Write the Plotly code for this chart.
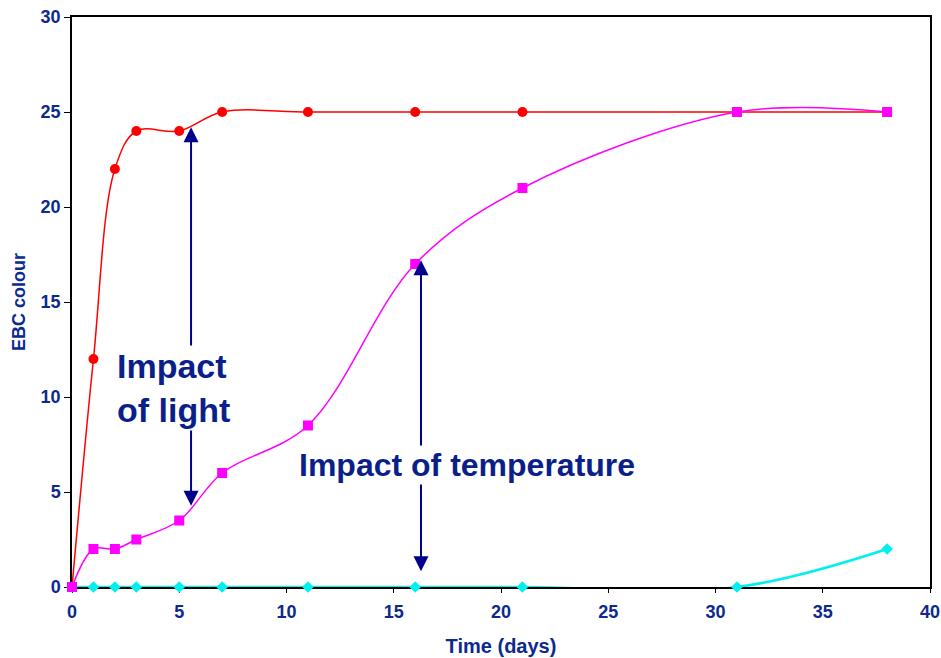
import plotly.graph_objs as go

# days of storage
days = [0, 1, 2, 3, 5, 7, 11, 16, 21, 31, 38]

# EBC colour per condition
light = [0, 12, 22, 24, 24, 25, 25, 25, 25, 25, 25]
warm = [0, 2, 2, 2.5, 3.5, 6, 8.5, 17, 21, 25, 25]
cold = [0, 0, 0, 0, 0, 0, 0, 0, 0, 0, 2]

navy = "#0b2a8c"
txt = "#0a1f8a"
arrow = "#00008b"
sans = "Liberation Sans, Arial, sans-serif"

fig = go.Figure()

fig.add_trace(go.Scatter(x=days, y=cold, mode="lines+markers", line_shape="spline",
                         line=dict(color="#00f0f0", width=2.5), cliponaxis=False,
                         marker=dict(symbol="diamond", size=9, color="#00f0f0")))
fig.add_trace(go.Scatter(x=days, y=light, mode="lines+markers", line_shape="spline",
                         line=dict(color="#ff0000", width=1.5), cliponaxis=False,
                         marker=dict(symbol="circle", size=10, color="#ff0000")))
fig.add_trace(go.Scatter(x=days, y=warm, mode="lines+markers", line_shape="spline",
                         line=dict(color="#ff00ff", width=1.5), cliponaxis=False,
                         marker=dict(symbol="square", size=10, color="#ff00ff")))

# double headed arrows
for xa, y0, y1 in [(5.55, 24.2, 4.2), (16.27, 17.2, 0.75)]:
    fig.add_annotation(x=xa, y=y0, ax=xa, ay=y1, xref="x", yref="y", axref="x", ayref="y",
                       text="", showarrow=True, arrowhead=2, startarrowhead=2,
                       arrowside="end+start", arrowsize=1.5, arrowwidth=2, arrowcolor=arrow)

fig.add_annotation(x=2.0, y=10.45, xref="x", yref="y", text="Impact<br>of light",
                   showarrow=False, xanchor="left", yanchor="middle", align="left",
                   bgcolor="white", font=dict(family=sans, size=34, color=txt, weight="bold"))
fig.add_annotation(x=10.5, y=6.4, xref="x", yref="y", text="Impact of temperature",
                   showarrow=False, xanchor="left", yanchor="middle", align="left",
                   bgcolor="white", font=dict(family=sans, size=32, color=txt, weight="bold"))

fig.update_xaxes(range=[0, 40], dtick=5, showline=True, linecolor="black", linewidth=1.5,
                 mirror=True, ticks="outside", ticklen=4, tickcolor="black", showgrid=False,
                 zeroline=False, automargin=False, layer="below traces",
                 ticklabeloverflow="allow", ticklabelstandoff=4,
                 tickfont=dict(family=sans, size=18, color=navy, weight="bold"),
                 title=dict(text="Time (days)", standoff=18,
                            font=dict(family=sans, size=20, color=navy, weight="bold")))
fig.update_yaxes(range=[0, 30], dtick=5, showline=True, linecolor="black", linewidth=1.5,
                 mirror=True, ticks="outside", ticklen=6, tickcolor="black", showgrid=False,
                 zeroline=False, automargin=False, layer="below traces",
                 ticklabeloverflow="allow",
                 tickfont=dict(family=sans, size=18, color=navy, weight="bold"),
                 title=dict(text="EBC colour", standoff=10,
                            font=dict(family=sans, size=18, color=navy, weight="bold")))

fig.update_layout(width=941, height=658, showlegend=False, plot_bgcolor="white",
                  paper_bgcolor="white", margin=dict(l=72, r=11, t=17, b=71))

# drop the default 8px page margin so the figure fills the window
fig.write_html("out.html", config={"displayModeBar": False},
               post_script="document.body.style.margin='0';")
